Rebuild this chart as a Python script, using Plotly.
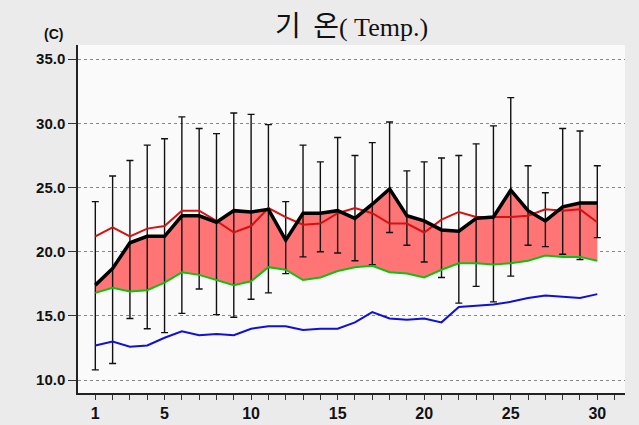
import plotly.graph_objects as go

days = list(range(1, 31))
mean_temp = [17.4, 18.7, 20.7, 21.2, 21.2, 22.8, 22.8, 22.3, 23.2, 23.1,
             23.3, 20.9, 23.0, 23.0, 23.2, 22.6, 23.7, 24.9, 22.8, 22.4,
             21.7, 21.6, 22.6, 22.7, 24.8, 23.2, 22.4, 23.5, 23.8, 23.8]
temp_max = [23.9, 25.9, 27.1, 28.3, 28.8, 30.5, 29.6, 29.2, 30.8, 30.7,
            29.9, 23.9, 28.3, 27.0, 28.9, 27.5, 28.5, 30.1, 26.3, 27.0,
            27.3, 27.5, 28.4, 29.8, 32.0, 26.7, 24.6, 29.6, 29.4, 26.7]
temp_min = [10.8, 11.3, 14.8, 14.0, 13.7, 15.2, 17.1, 15.1, 14.9, 16.3,
            16.8, 18.3, 19.6, 20.0, 19.9, 19.3, 19.0, 21.5, 20.5, 19.2,
            18.0, 16.0, 17.3, 16.1, 18.1, 20.5, 20.4, 19.8, 19.4, 21.1]
red_line = [21.2, 21.9, 21.2, 21.8, 22.0, 23.2, 23.2, 22.4, 21.5, 22.0,
            23.4, 22.7, 22.1, 22.2, 23.0, 23.4, 23.0, 22.2, 22.2, 21.5,
            22.5, 23.1, 22.7, 22.7, 22.7, 22.8, 23.3, 23.2, 23.3, 22.3]
green_line = [16.8, 17.2, 16.9, 17.0, 17.6, 18.4, 18.2, 17.8, 17.4, 17.7,
              18.8, 18.6, 17.8, 18.0, 18.5, 18.8, 18.9, 18.4, 18.3, 18.0,
              18.6, 19.1, 19.1, 19.0, 19.1, 19.3, 19.7, 19.6, 19.6, 19.3]
blue_line = [12.7, 13.0, 12.6, 12.7, 13.3, 13.8, 13.5, 13.6, 13.5, 14.0,
             14.2, 14.2, 13.9, 14.0, 14.0, 14.5, 15.3, 14.8, 14.7, 14.8,
             14.5, 15.7, 15.8, 15.9, 16.1, 16.4, 16.6, 16.5, 16.4, 16.7]

x_tickvals = list(range(1, 32))
x_ticktext = [str(d) if d in (1, 5, 10, 15, 20, 25, 30) else "" for d in x_tickvals]
y_tickvals = [10, 15, 20, 25, 30, 35]

fig = go.Figure()
# fill between green and black
fig.add_trace(go.Scatter(x=days, y=green_line, mode="lines",
                         line=dict(width=0, color="rgba(0,0,0,0)"),
                         hoverinfo="skip", showlegend=False))
fig.add_trace(go.Scatter(x=days, y=mean_temp, mode="lines", fill="tonexty",
                         fillcolor="#FF7474", line=dict(width=0, color="rgba(0,0,0,0)"),
                         hoverinfo="skip", showlegend=False))
# error bars (max/min)
err_plus = [mx - m for mx, m in zip(temp_max, mean_temp)]
err_minus = [m - mn for m, mn in zip(mean_temp, temp_min)]
fig.add_trace(go.Scatter(x=days, y=mean_temp, mode="markers",
                         marker=dict(size=1, color="rgba(0,0,0,0)"),
                         error_y=dict(type="data", array=err_plus, arrayminus=err_minus,
                                      symmetric=False, color="#111111",
                                      thickness=1.4, width=3.5),
                         showlegend=False))
fig.add_trace(go.Scatter(x=days, y=blue_line, mode="lines",
                         line=dict(color="#1010D8", width=2), showlegend=False))
fig.add_trace(go.Scatter(x=days, y=green_line, mode="lines",
                         line=dict(color="#10C010", width=2), showlegend=False))
fig.add_trace(go.Scatter(x=days, y=red_line, mode="lines",
                         line=dict(color="#D81010", width=2), showlegend=False))
fig.add_trace(go.Scatter(x=days, y=mean_temp, mode="lines",
                         line=dict(color="#000000", width=3.5), showlegend=False))

fig.update_layout(
    width=639, height=425,
    margin=dict(l=78, r=14, t=45, b=32, autoexpand=False),
    paper_bgcolor="#EBEBEB",
    plot_bgcolor="#FAFAFA",
    showlegend=False,
    title=dict(
        text="<span style='font-size:28px'>기&nbsp;&nbsp;온</span><span style='font-family:Liberation Serif'>( Temp.)</span>",
        xref="paper", x=0.5, xanchor="center",
        yref="container", y=1 - 27 / 425, yanchor="middle",
        font=dict(family="Noto Sans CJK KR, Liberation Sans", size=26, color="#111111"),
    ),
    annotations=[dict(text="(C)", x=(53 - 78) / 547, y=(393 - 34) / 348,
                      xref="paper", yref="paper",
                      xanchor="center", yanchor="middle",
                      showarrow=False,
                      font=dict(family="Liberation Sans", size=14, color="#111111", weight=700))],
)
fig.update_xaxes(range=[0, 31.6], tickvals=x_tickvals, ticktext=x_ticktext, automargin=False,
                 showgrid=False, zeroline=False, showline=True, linecolor="#222222", linewidth=1.5,
                 ticks="outside", ticklen=5, tickcolor="#333333",
                 tickfont=dict(family="Liberation Sans", size=16, color="#111111", weight=700))
fig.update_yaxes(range=[9, 36.1], tickvals=y_tickvals, tickformat=".1f", automargin=False,
                 showgrid=True, gridcolor="#888888", griddash="dot", gridwidth=1,
                 zeroline=False, showline=True, linecolor="#222222", linewidth=1.5,
                 ticks="outside", ticklen=8, tickcolor="#333333",
                 tickfont=dict(family="Liberation Sans", size=15, color="#111111", weight=700))

fig.write_html("out.html",
               config={"displayModeBar": False},
               post_script="document.body.style.margin='0';document.body.style.background='#EBEBEB';")
